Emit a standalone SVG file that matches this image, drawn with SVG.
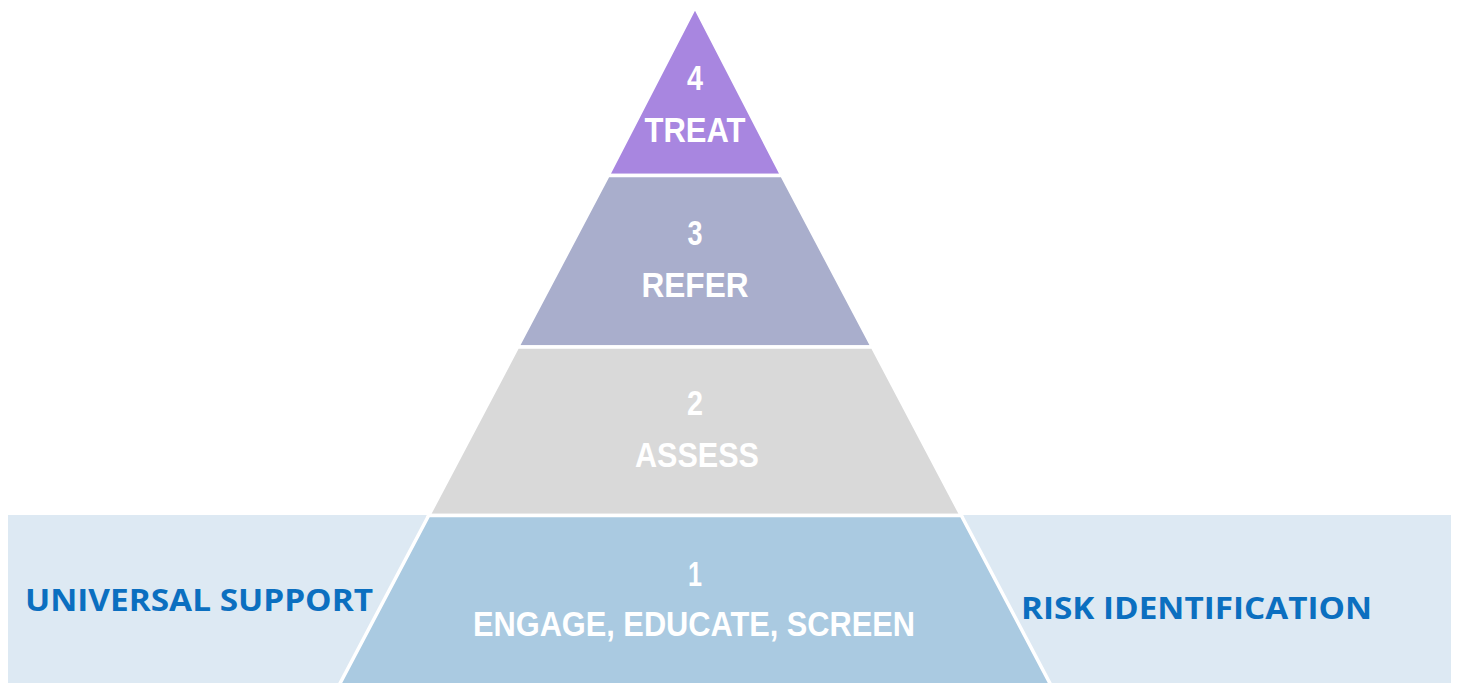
<svg xmlns="http://www.w3.org/2000/svg" width="1457" height="683" viewBox="0 0 1457 683">
<style>
.tier{stroke:#ffffff;stroke-width:3.5;stroke-linejoin:miter}
.lbl{font-family:"Liberation Sans",Arial,sans-serif;font-weight:bold;font-size:35px;fill:#ffffff;text-anchor:middle}
.side{font-family:"Open Sans","DejaVu Sans",sans-serif;font-weight:bold;font-size:31px;fill:#0B6FC0}
</style>
<rect x="0" y="0" width="1457" height="683" fill="#ffffff"/>
<g id="band">
<rect x="8" y="515" width="1443" height="170" fill="#DDE9F3"/>
</g>
<g id="tier4">
<polygon class="tier" points="695,7 781.9,175.5 608.1,175.5" fill="#A886E0"/>
<text class="lbl" x="695" y="90" textLength="16" lengthAdjust="spacingAndGlyphs">4</text>
<text class="lbl" x="695" y="142" textLength="101" lengthAdjust="spacingAndGlyphs">TREAT</text>
</g>
<g id="tier3">
<polygon class="tier" points="608.1,175.5 781.9,175.5 872.4,347 517.6,347" fill="#A9AECC"/>
<text class="lbl" x="695" y="245" textLength="15" lengthAdjust="spacingAndGlyphs">3</text>
<text class="lbl" x="695" y="297" textLength="107" lengthAdjust="spacingAndGlyphs">REFER</text>
</g>
<g id="tier2">
<polygon class="tier" points="517.6,347 872.4,347 961.3,515.5 428.7,515.5" fill="#D9D9D9"/>
<text class="lbl" x="695" y="415" textLength="16" lengthAdjust="spacingAndGlyphs">2</text>
<text class="lbl" x="697" y="467" textLength="124" lengthAdjust="spacingAndGlyphs">ASSESS</text>
</g>
<g id="tier1">
<polygon class="tier" points="428.7,515.5 961.3,515.5 1054,691 336,691" fill="#AACAE1"/>
<text class="lbl" x="695" y="586" textLength="14" lengthAdjust="spacingAndGlyphs">1</text>
<text class="lbl" x="694" y="636" textLength="442" lengthAdjust="spacingAndGlyphs">ENGAGE, EDUCATE, SCREEN</text>
</g>
<g id="universal-support">
<text class="side" x="25" y="611" textLength="348" lengthAdjust="spacingAndGlyphs">UNIVERSAL SUPPORT</text>
</g>
<g id="risk-identification">
<text class="side" x="1021" y="619" textLength="351" lengthAdjust="spacingAndGlyphs">RISK IDENTIFICATION</text>
</g>
<g id="connectors"></g>
</svg>
